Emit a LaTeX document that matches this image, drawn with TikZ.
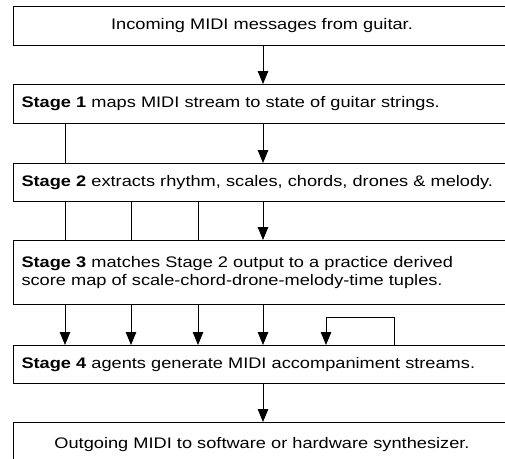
\documentclass[tikz,border=0pt]{standalone}
\usepackage{fontspec}
\setmainfont[FakeStretch=1.19]{Liberation Sans}
\usetikzlibrary{arrows.meta}
\begin{document}
\begin{tikzpicture}[x=1pt,y=-1pt,
  stagebox/.style={draw, line width=1pt, rectangle, anchor=north west,
    minimum width=497pt, inner xsep=8pt, inner ysep=0pt,
    font=\fontsize{15.3}{18}\selectfont},
  leftbox/.style={stagebox, text width=481pt, align=left},
  midbox/.style={stagebox, text width=481pt, align=center},
  link/.style={line width=1pt},
  flow/.style={line width=1pt, -{Triangle[length=13pt,width=10.5pt]}}]
\useasboundingbox (0,0) rectangle (505,458);

% the six stages, top to bottom
\node[midbox, minimum height=39pt] (inb) at (13,6) {Incoming MIDI messages from guitar.};
\node[leftbox, minimum height=39pt] (s1) at (13,84) {\textbf{Stage 1} maps MIDI stream to state of guitar strings.};
\node[leftbox, minimum height=38pt] (s2) at (13,163) {\textbf{Stage 2} extracts rhythm, scales, chords, drones \& melody.};
\node[leftbox, minimum height=64pt] (s3) at (13,240) {\textbf{Stage 3} matches Stage 2 output to a practice derived\\score map of scale-chord-drone-melody-time tuples.};
\node[leftbox, minimum height=38pt] (s4) at (13,345) {\textbf{Stage 4} agents generate MIDI accompaniment streams.};
\node[midbox, minimum height=45pt] (outb) at (13,422) {Outgoing MIDI to software or hardware synthesizer.};

% columns of the parallel channels
\coordinate (ca) at (65,0);
\coordinate (cb) at (131,0);
\coordinate (cc) at (198,0);
\coordinate (cd) at (263,0);
\coordinate (ce) at (326,0);
\coordinate (cf) at (394,0);
\coordinate (looptop) at (0,317);

\draw[flow] (inb.south -| cd) -- (s1.north -| cd);

\draw[link] (s1.south -| ca) -- (s2.north -| ca);
\draw[flow] (s1.south -| cd) -- (s2.north -| cd);

\draw[link] (s2.south -| ca) -- (s3.north -| ca);
\draw[link] (s2.south -| cb) -- (s3.north -| cb);
\draw[link] (s2.south -| cc) -- (s3.north -| cc);
\draw[flow] (s2.south -| cd) -- (s3.north -| cd);

\draw[flow] (s3.south -| ca) -- (s4.north -| ca);
\draw[flow] (s3.south -| cb) -- (s4.north -| cb);
\draw[flow] (s3.south -| cc) -- (s4.north -| cc);
\draw[flow] (s3.south -| cd) -- (s4.north -| cd);

% feedback loop on stage 4
\draw[flow] (s4.north -| cf) -- (looptop -| cf) -- (looptop -| ce) -- (s4.north -| ce);

\draw[flow] (s4.south -| cd) -- (outb.north -| cd);
\end{tikzpicture}
\end{document}
